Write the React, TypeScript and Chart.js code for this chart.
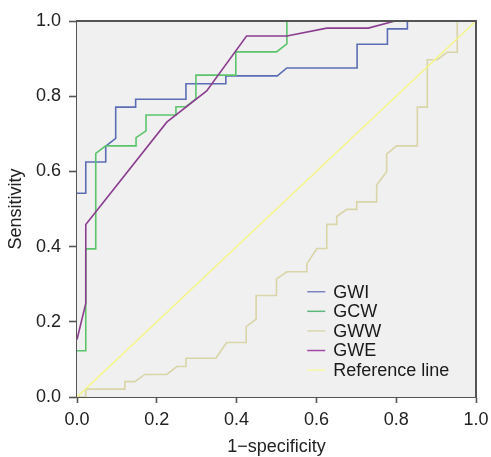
import React, { useEffect, useRef } from "react";
import { Chart, registerables } from "chart.js";

Chart.register(...registerables);

const seriesLabels = ["GWI", "GCW", "GWW", "GWE", "Reference line"];
const seriesColors = ["#5b6db5", "#5bc46b", "#d9d5a7", "#8b3d8f", "#f5f58a"];
const legendColors = ["#7a80c0", "#5cb87a", "#dcd8b0", "#a04aa8", "#f7f7a8"];

const gwiX = [0, 0.022, 0.022, 0.072, 0.072, 0.097, 0.097, 0.147, 0.147, 0.273, 0.273, 0.373, 0.373, 0.502, 0.526, 0.702, 0.702, 0.778, 0.778, 0.828, 0.828, 1];
const gwiY = [0.542, 0.542, 0.625, 0.625, 0.667, 0.688, 0.771, 0.771, 0.792, 0.792, 0.833, 0.833, 0.854, 0.854, 0.875, 0.875, 0.938, 0.938, 0.979, 0.979, 1, 1];

const gcwX = [0, 0.022, 0.022, 0.047, 0.047, 0.072, 0.148, 0.148, 0.173, 0.173, 0.248, 0.248, 0.273, 0.298, 0.298, 0.398, 0.398, 0.5, 0.526, 0.526, 1];
const gcwY = [0.123, 0.123, 0.394, 0.394, 0.648, 0.668, 0.668, 0.69, 0.708, 0.75, 0.75, 0.772, 0.772, 0.793, 0.856, 0.856, 0.918, 0.918, 0.939, 1, 1];

const gwwX = [0, 0.022, 0.022, 0.12, 0.12, 0.145, 0.17, 0.225, 0.25, 0.273, 0.273, 0.348, 0.375, 0.424, 0.424, 0.449, 0.449, 0.5, 0.5, 0.526, 0.576, 0.576, 0.601, 0.626, 0.626, 0.651, 0.651, 0.676, 0.701, 0.701, 0.751, 0.751, 0.776, 0.776, 0.801, 0.853, 0.853, 0.878, 0.878, 0.903, 0.928, 0.953, 0.953, 1];
const gwwY = [0, 0, 0.021, 0.021, 0.041, 0.041, 0.06, 0.06, 0.081, 0.081, 0.103, 0.103, 0.145, 0.145, 0.187, 0.207, 0.27, 0.27, 0.314, 0.333, 0.333, 0.354, 0.395, 0.395, 0.459, 0.459, 0.48, 0.499, 0.499, 0.519, 0.519, 0.564, 0.599, 0.646, 0.668, 0.668, 0.771, 0.771, 0.897, 0.897, 0.917, 0.917, 1, 1];

const gweX = [0, 0.022, 0.022, 0.225, 0.325, 0.425, 0.526, 0.626, 0.73, 0.797, 1];
const gweY = [0.153, 0.249, 0.459, 0.731, 0.814, 0.96, 0.96, 0.981, 0.981, 1, 1];

const refX = [0, 1];
const refY = [0, 1];

const tickValues = [0, 0.2, 0.4, 0.6, 0.8, 1.0];
const tickLabels = ["0.0", "0.2", "0.4", "0.6", "0.8", "1.0"];

const FONT = '"Liberation Sans", Arial, Helvetica, sans-serif';

function zip(xs: number[], ys: number[]) {
  return xs.map((x, i) => ({ x, y: ys[i] }));
}

const frameBgPlugin = {
  id: "frameBg",
  beforeDatasetsDraw(chart: any) {
    const { ctx, chartArea } = chart;
    ctx.save();
    ctx.fillStyle = "#f0f0f0";
    ctx.fillRect(chartArea.left, chartArea.top, chartArea.right - chartArea.left, chartArea.bottom - chartArea.top);
    ctx.restore();
  },
  afterDatasetsDraw(chart: any) {
    const { ctx, chartArea } = chart;
    ctx.save();
    ctx.strokeStyle = "#555555";
    ctx.lineWidth = 2;
    ctx.beginPath();
    ctx.moveTo(chartArea.left, chartArea.top);
    ctx.lineTo(chartArea.right, chartArea.top);
    ctx.lineTo(chartArea.right, chartArea.bottom);
    ctx.stroke();
    ctx.restore();
  },
};

const insideLegendPlugin = {
  id: "insideLegend",
  afterDraw(chart: any) {
    const { ctx, chartArea } = chart;
    const w = chartArea.right - chartArea.left;
    const h = chartArea.bottom - chartArea.top;
    const x0 = chartArea.left + w * 0.577;
    const y0 = chartArea.top + h * 0.72;
    const dy = 19.6;
    ctx.save();
    ctx.font = `18px ${FONT}`;
    ctx.textBaseline = "middle";
    ctx.textAlign = "left";
    seriesLabels.forEach((label, i) => {
      const y = y0 + i * dy;
      ctx.strokeStyle = legendColors[i];
      ctx.lineWidth = 1.5;
      ctx.beginPath();
      ctx.moveTo(x0, y);
      ctx.lineTo(x0 + 18, y);
      ctx.stroke();
      ctx.fillStyle = "#1a1a1a";
      ctx.fillText(label, x0 + 26, y + 1);
    });
    ctx.restore();
  },
};

export default function App() {
  const ref = useRef<HTMLCanvasElement | null>(null);

  useEffect(() => {
    document.body.style.margin = "0";
    const canvas = ref.current;
    if (!canvas) return;
    const xsList = [gwiX, gcwX, gwwX, gweX, refX];
    const ysList = [gwiY, gcwY, gwwY, gweY, refY];
    const drawOrder = [3, 2, 4, 1, 0];
    const datasets = seriesLabels.map((label, i) => ({
      label,
      data: zip(xsList[i], ysList[i]),
      borderColor: seriesColors[i],
      backgroundColor: seriesColors[i],
      borderWidth: 1.6,
      pointRadius: 0,
      showLine: true,
      tension: 0,
      fill: false,
      order: drawOrder[i],
    }));

    const axisCommon = (title: string, tl: number, pad: number, titlePad: any) => ({
      type: "linear" as const,
      min: 0,
      max: 1,
      afterBuildTicks(scale: any) {
        scale.ticks = tickValues.map((v) => ({ value: v }));
      },
      ticks: {
        callback: (v: any) => {
          const idx = tickValues.findIndex((t) => Math.abs(t - v) < 1e-9);
          return idx >= 0 ? tickLabels[idx] : "";
        },
        color: "#222",
        font: { family: FONT, size: 18 },
        padding: pad,
        autoSkip: false,
        maxRotation: 0,
      },
      grid: {
        drawOnChartArea: false,
        drawTicks: true,
        tickLength: tl,
        tickColor: "#555555",
        tickWidth: 1.6,
      },
      border: { display: true, color: "#555555", width: 2 },
      title: {
        display: true,
        text: title,
        color: "#222",
        font: { family: FONT, size: 18, lineHeight: 1.1 },
        padding: titlePad,
      },
    });

    const chart = new Chart(canvas, {
      type: "scatter",
      data: { datasets },
      options: {
        animation: false,
        responsive: false,
        maintainAspectRatio: false,
        layout: { padding: { top: 21, right: 15, left: 0, bottom: 0 } },
        plugins: {
          legend: { display: false },
          tooltip: { enabled: false },
        },
        scales: {
          x: {
            ...axisCommon("1\u2212specificity", 6, 6, { top: 0, bottom: 0 }),
            position: "bottom",
            afterFit(scale: any) {
              scale.height = 60;
              scale.paddingLeft = 0;
              scale.paddingRight = 0;
            },
          },
          y: {
            ...axisCommon("Sensitivity", 8, 8, { top: 6, bottom: 0 }),
            position: "left",
            afterFit(scale: any) {
              scale.width = 77;
              scale.paddingTop = 0;
              scale.paddingBottom = 0;
            },
          },
        },
      } as any,
      plugins: [frameBgPlugin, insideLegendPlugin],
    });
    return () => chart.destroy();
  }, []);

  return (
    <div style={{ width: 491, height: 457 }}>
      <canvas ref={ref} width={491} height={457} style={{ display: "block" }} />
    </div>
  );
}
